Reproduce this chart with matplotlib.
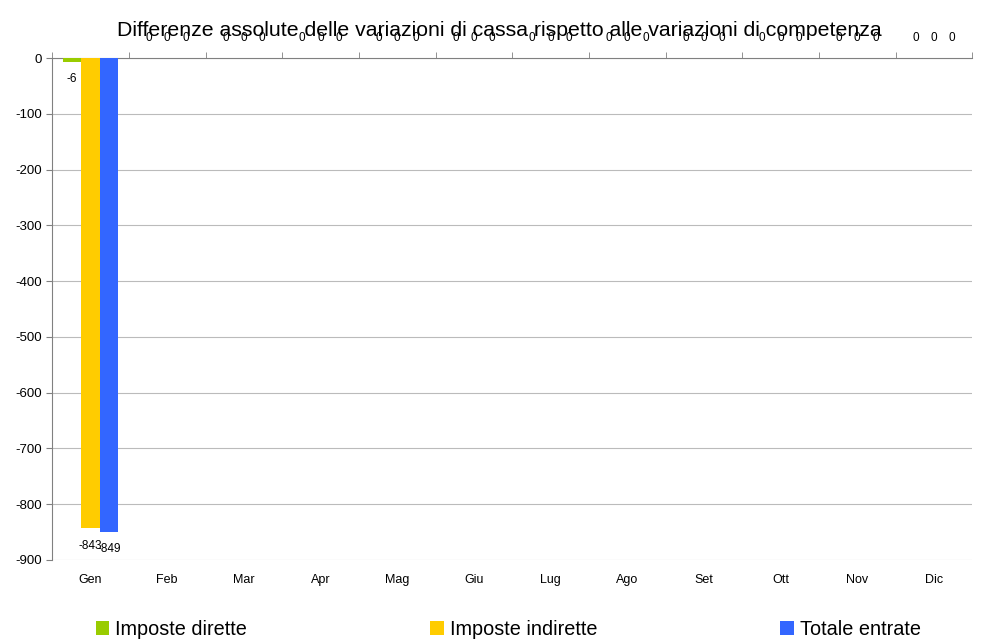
import numpy as np
import matplotlib
matplotlib.use("Agg")
import matplotlib.pyplot as plt
from matplotlib.ticker import FixedLocator

mesi = ['Gen', 'Feb', 'Mar', 'Apr', 'Mag', 'Giu', 'Lug', 'Ago', 'Set', 'Ott', 'Nov', 'Dic']
imposte_dirette = [-6, 0, 0, 0, 0, 0, 0, 0, 0, 0, 0, 0]
imposte_indirette = [-843, 0, 0, 0, 0, 0, 0, 0, 0, 0, 0, 0]
totale_entrate = [-849, 0, 0, 0, 0, 0, 0, 0, 0, 0, 0, 0]

serie = [('Imposte dirette', imposte_dirette, '#99CC00'),
         ('Imposte indirette', imposte_indirette, '#FFCC00'),
         ('Totale entrate', totale_entrate, '#3366FF')]

plt.rcParams['font.family'] = ['Liberation Sans', 'DejaVu Sans']
plt.rcParams['axes.unicode_minus'] = False

fig = plt.figure(figsize=(9.85, 6.4), dpi=100)
ax = fig.add_axes([0.053, 0.125, 0.934, 0.784])

x = np.arange(len(mesi))
w = 0.24
for i, (nome, vals, col) in enumerate(serie):
    pos = x + (i - 1) * w
    ax.bar(pos, vals, w, color=col, label=nome, zorder=3)
    for p, v in zip(pos, vals):
        if v < 0:
            ax.annotate('%d' % v, (p, v), xytext=(0, -17), textcoords='offset points',
                        ha='center', va='bottom', fontsize=8.5)
        else:
            ax.annotate('%d' % v, (p, v), xytext=(0, 10), textcoords='offset points',
                        ha='center', va='bottom', fontsize=8.5)

ax.set_xlim(-0.5, len(mesi) - 0.5)
ax.set_ylim(-900, 0)
ax.set_yticks(np.arange(-900, 1, 100))
ax.yaxis.grid(True, color='#BBBBBB', linewidth=0.8, zorder=0)
ax.tick_params(axis='y', labelsize=9.5, length=4, color='#808080')

ax.set_xticks(x)
ax.set_xticklabels(mesi, fontsize=9)
ax.tick_params(axis='x', which='major', length=0, pad=10)
ax.xaxis.set_minor_locator(FixedLocator(np.arange(-0.5, len(mesi), 1.0)))
ax.tick_params(axis='x', which='minor', top=True, bottom=False, direction='out', length=4, color='#808080')

for s in ['right', 'bottom']:
    ax.spines[s].set_visible(False)
ax.spines['left'].set_color('#808080')
ax.spines['top'].set_color('#808080')

fig.text(0.507, 0.953, 'Differenze assolute delle variazioni di cassa rispetto alle variazioni di competenza',
         ha='center', va='center', fontsize=15.3)

fig.legend(loc='lower left', ncol=3, bbox_to_anchor=(0.097, 0.002), borderaxespad=0, borderpad=0,
           frameon=False, fontsize=14.3, handlelength=0.7, handleheight=0.7, handletextpad=0.3,
           columnspacing=9.2)

fig.savefig('out.png', dpi=100)
